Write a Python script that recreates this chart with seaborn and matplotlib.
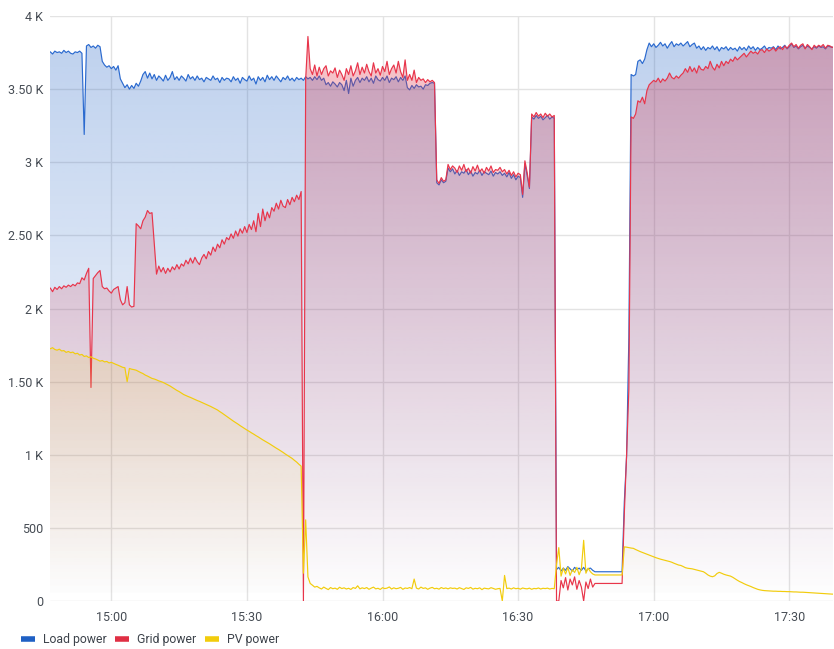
import numpy as np
import pandas as pd
import seaborn as sns
import matplotlib
matplotlib.use('Agg')
import matplotlib.pyplot as plt
import matplotlib.dates as mdates
import matplotlib.colors as mcolors
from matplotlib.lines import Line2D

# one sample every 30 s, first sample at 14:46:00
start = '2024-05-01 14:46:00'

load_w = [
    3745, 3755, 3740, 3760, 3750, 3755, 3745, 3765, 3750, 3760, 3745, 3740, 3755, 3750, 3760, 3745, 3190, 3795, 3805, 3785,
    3795, 3780, 3800, 3790, 3690, 3665, 3650, 3660, 3640, 3655, 3630, 3660, 3570, 3540, 3510, 3530, 3500, 3525, 3505, 3540,
    3520, 3555, 3600, 3620, 3575, 3610, 3570, 3600, 3560, 3590, 3575, 3555, 3595, 3560, 3580, 3620, 3565, 3585, 3560, 3590,
    3575, 3555, 3600, 3570, 3585, 3560, 3590, 3565, 3575, 3550, 3580, 3570, 3560, 3590, 3565, 3575, 3545, 3580, 3560, 3575,
    3570, 3550, 3585, 3560, 3575, 3540, 3580, 3565, 3555, 3590, 3560, 3575, 3535, 3585, 3560, 3580, 3550, 3595, 3565, 3585,
    3560, 3590, 3570, 3550, 3580, 3565, 3590, 3560, 3575, 3555, 3580, 3565, 3575, 3560, 3585, 3570, 3580, 3560, 3585, 3565,
    3590, 3560, 3575, 3530, 3545, 3520, 3550, 3535, 3515, 3545, 3530, 3490, 3560, 3470, 3575, 3520, 3560, 3580, 3545, 3575,
    3560, 3585, 3550, 3575, 3540, 3590, 3565, 3555, 3580, 3560, 3590, 3545, 3575, 3565, 3585, 3550, 3580, 3560, 3590, 3510,
    3495, 3525, 3505, 3530, 3515, 3520, 3500, 3530, 3525, 3540, 3545, 3540, 2860, 2845, 2880, 2860, 2870, 2960, 2935, 2955,
    2920, 2945, 2910, 2935, 2925, 2950, 2915, 2940, 2905, 2930, 2920, 2945, 2910, 2935, 2925, 2915, 2940, 2905, 2930, 2920,
    2935, 2910, 2925, 2900, 2930, 2890, 2915, 2880, 2905, 2895, 2760, 2990, 2910, 2820, 3310, 3295, 3320, 3300, 3315, 3290,
    3305, 3320, 3295, 3310, 3300, 215, 230, 205, 225, 210, 235, 220, 205, 230, 215, 225, 210, 230, 205, 220,
    225, 210, 200, 200, 200, 200, 200, 200, 200, 200, 200, 200, 200, 200, 200, 680, 990, 1800, 3600, 3590,
    3600, 3690, 3700, 3675, 3705, 3770, 3815, 3790, 3810, 3785, 3800, 3820, 3795, 3810, 3780, 3805, 3825, 3790, 3810, 3800,
    3815, 3795, 3810, 3825, 3790, 3805, 3815, 3780, 3795, 3770, 3790, 3765, 3785, 3775, 3795, 3770, 3790, 3760, 3785, 3775,
    3790, 3765, 3785, 3770, 3780, 3760, 3790, 3770, 3785, 3765, 3795, 3775, 3790, 3765, 3785, 3770, 3780, 3795, 3770, 3785,
    3780, 3790, 3770, 3795, 3775, 3785, 3800, 3775, 3790, 3810, 3785, 3795, 3775, 3790, 3800, 3780, 3795, 3785, 3775, 3790,
    3780, 3795, 3785, 3790, 3775, 3795, 3790, 3785, 3790,
]

grid_w = [
    2130, 2140, 2115, 2145, 2130, 2150, 2135, 2155, 2145, 2160, 2150, 2165, 2155, 2175, 2170, 2210, 2195, 2240, 2275, 1460,
    2205, 2225, 2245, 2260, 2150, 2135, 2140, 2120, 2105, 2130, 2140, 2150, 2060, 2025, 2040, 2150, 2025, 2010, 2015, 2580,
    2565, 2545, 2600, 2625, 2670, 2650, 2655, 2450, 2235, 2290, 2250, 2280, 2240, 2275, 2250, 2285, 2265, 2300, 2270, 2305,
    2290, 2330, 2305, 2345, 2310, 2350, 2320, 2300, 2345, 2370, 2340, 2390, 2365, 2420, 2390, 2440, 2415, 2470, 2440, 2485,
    2470, 2510, 2480, 2530, 2495, 2545, 2515, 2560, 2520, 2575, 2540, 2600, 2525, 2650, 2560, 2680, 2600, 2660, 2620, 2690,
    2665, 2720, 2680, 2740, 2700, 2690, 2745, 2710, 2760, 2730, 2775, 2745, 2800, 0, 3570, 3860, 3640, 3600, 3665, 3590,
    3650, 3600, 3640, 3660, 3590, 3625, 3610, 3645, 3580, 3630, 3600, 3560, 3640, 3600, 3660, 3590, 3625, 3680, 3600, 3650,
    3610, 3670, 3620, 3590, 3680, 3610, 3640, 3595, 3655, 3620, 3690, 3600, 3640, 3665, 3610, 3690, 3620, 3580, 3700, 3560,
    3600, 3560, 3630, 3545, 3580, 3560, 3570, 3545, 3565, 3550, 3560, 3545, 2880, 2855, 2895, 2870, 2880, 2985, 2950, 2975,
    2960, 2930, 2975, 2945, 2985, 2935, 2960, 2925, 2970, 2940, 2980, 2935, 2955, 2925, 2965, 2940, 2975, 2930, 2950, 2945,
    2965, 2935, 2950, 2920, 2945, 2910, 2935, 2900, 2925, 2915, 2780, 3010, 2930, 2830, 3330, 3310, 3340, 3315, 3330, 3305,
    3335, 3315, 3330, 3310, 3320, 0, 0, 140, 90, 160, 75, 150, 110, 165, 80, 140, 95, 0, 130, 85,
    150, 95, 120, 120, 120, 120, 120, 120, 120, 120, 120, 120, 120, 120, 120, 600, 1000, 1450, 3310, 3300,
    3330, 3420, 3410, 3445, 3400, 3490, 3530, 3545, 3560, 3550, 3575, 3545, 3570, 3555, 3575, 3610, 3580, 3570, 3590, 3575,
    3595, 3610, 3640, 3615, 3655, 3620, 3645, 3610, 3660, 3635, 3630, 3655, 3640, 3690, 3650, 3630, 3670, 3645, 3690, 3660,
    3690, 3675, 3705, 3690, 3720, 3700, 3715, 3730, 3745, 3720, 3740, 3760, 3745, 3755, 3740, 3765, 3770, 3750, 3775, 3760,
    3770, 3785, 3760, 3780, 3790, 3770, 3795, 3780, 3800, 3815, 3790, 3805, 3780, 3800, 3810, 3775, 3805, 3790, 3770, 3800,
    3785, 3800, 3790, 3805, 3780, 3800, 3795, 3785, 3795,
]

pv_w = [
    1730, 1725, 1732, 1720, 1715, 1722, 1710, 1712, 1700, 1706, 1698, 1702, 1690, 1694, 1682, 1686, 1672, 1676, 1665, 1670,
    1660, 1655, 1648, 1640, 1644, 1635, 1638, 1628, 1632, 1625, 1618, 1612, 1605, 1598, 1595, 1500, 1590, 1585, 1582, 1578,
    1570, 1562, 1555, 1545, 1538, 1530, 1522, 1518, 1512, 1505, 1500, 1494, 1486, 1478, 1470, 1460, 1450, 1440, 1432, 1422,
    1412, 1405, 1398, 1392, 1385, 1378, 1371, 1365, 1358, 1351, 1344, 1337, 1330, 1322, 1314, 1306, 1295, 1285, 1274, 1263,
    1252, 1241, 1230, 1220, 1210, 1199, 1189, 1179, 1169, 1160, 1150, 1141, 1131, 1122, 1112, 1102, 1093, 1084, 1075, 1065,
    1055, 1045, 1036, 1026, 1016, 1005, 995, 985, 975, 962, 950, 935, 922, 190, 555, 165, 120, 108, 95, 100,
    90, 82, 95, 86, 78, 92, 84, 88, 80, 94, 85, 90, 82, 87, 79, 92, 86, 104, 83, 90,
    85, 92, 80, 88, 95, 83, 87, 79, 91, 85, 88, 96, 82, 90, 84, 87, 93, 80, 89, 86,
    92, 84, 150, 88, 82, 95, 86, 90, 80, 88, 93, 84, 87, 81, 92, 85, 89, 83, 90, 86,
    88, 82, 91, 85, 79, 90, 86, 93, 81, 87, 84, 90, 78, 88, 85, 83, 91, 86, 80, 84,
    86, 0, 175, 85, 88, 82, 90, 84, 87, 81, 89, 85, 83, 88, 80, 86, 84, 89, 82, 87,
    85, 88, 82, 86, 84, 250, 365, 170, 225, 185, 230, 175, 215, 195, 230, 180, 220, 415, 190, 225,
    200, 185, 178, 178, 178, 178, 178, 178, 178, 178, 178, 178, 178, 178, 178, 370, 368, 365, 362, 360,
    352, 345, 338, 332, 326, 320, 314, 308, 302, 296, 291, 286, 282, 278, 274, 270, 265, 258, 252, 246,
    243, 236, 228, 224, 222, 220, 216, 212, 208, 204, 200, 190, 178, 170, 166, 172, 188, 196, 190, 183,
    178, 174, 170, 162, 152, 142, 133, 126, 118, 111, 105, 99, 92, 86, 80, 76, 73, 71, 70, 69,
    68, 67, 67, 66, 66, 65, 65, 64, 64, 63, 62, 62, 61, 60, 60, 59, 58, 57, 56, 55,
    54, 53, 52, 51, 50, 49, 48, 47, 47,
]

series = ['Load power', 'Grid power', 'PV power']
colors = ['#1F60C4', '#E02F44', '#F2CC0C']
line_colors = ['#2B6ACF', '#E8354B', '#F2CC0C']
y_ticks = [0, 500, 1000, 1500, 2000, 2500, 3000, 3500, 4000]
y_labels = ['0', '500', '1 K', '1.50 K', '2 K', '2.50 K', '3 K', '3.50 K', '4 K']

times = pd.date_range(start, periods=len(load_w), freq='30s')
df = pd.DataFrame({'time': times, 'Load power': load_w, 'Grid power': grid_w, 'PV power': pv_w})

sns.set_theme(style='white')
plt.rcParams['font.family'] = ['Roboto', 'DejaVu Sans']

fig = plt.figure(figsize=(8.34, 6.49), dpi=100)
ax = fig.add_axes([50 / 834, 48 / 649, 783 / 834, 585 / 649])

x0 = mdates.date2num(times[0])
x1 = mdates.date2num(times[-1])


def gradient_fill(col, color, top_alpha, z):
    # fill under the series, fading out towards zero (grafana "opacity" gradient)
    poly = ax.fill_between(df['time'], df[col], 0, facecolor='none', edgecolor='none')
    rgba = np.zeros((256, 1, 4))
    rgba[:, :, :3] = mcolors.to_rgb(color)
    rgba[:, 0, 3] = np.linspace(top_alpha, 0, 256)
    im = ax.imshow(rgba, extent=[x0, x1, 0, 4000], aspect='auto', origin='upper',
                   zorder=z, interpolation='bilinear')
    im.set_clip_path(poly.get_paths()[0], transform=ax.transData)


alphas = [0.30, 0.33, 0.33]
for k, name in enumerate(series):
    gradient_fill(name, colors[k], alphas[k], 2 * k + 1)
    sns.lineplot(data=df, x='time', y=name, color=line_colors[k], lw=0.85, ax=ax,
                 estimator=None, zorder=2 * k + 2)

ax.set_xlim(pd.Timestamp('2024-05-01 14:46:26'), pd.Timestamp('2024-05-01 17:39:40'))
ax.set_ylim(0, 4000)
ax.set_xlabel('')
ax.set_ylabel('')
ax.xaxis.set_major_locator(mdates.MinuteLocator(byminute=[0, 30]))
ax.xaxis.set_major_formatter(mdates.DateFormatter('%H:%M'))
ax.set_yticks(y_ticks, y_labels)
ax.tick_params(length=0, colors='#464c54', labelsize=9)
ax.tick_params(axis='y', pad=5)
ax.tick_params(axis='x', pad=7)
ax.grid(True, color='#e3e3e3', lw=1.0)
ax.set_axisbelow(True)
for s in ax.spines.values():
    s.set_visible(False)

handles = [Line2D([], [], color=c, lw=4, solid_capstyle='butt') for c in colors]
fig.legend(handles, series, loc='center left', bbox_to_anchor=(21 / 834, 1 - 640 / 649),
           ncol=3, frameon=False, handlelength=1.15, handletextpad=0.65, columnspacing=0.7,
           borderpad=0, borderaxespad=0, fontsize=8.8, labelcolor='#3d434b')

fig.savefig('out.png', dpi=100)
